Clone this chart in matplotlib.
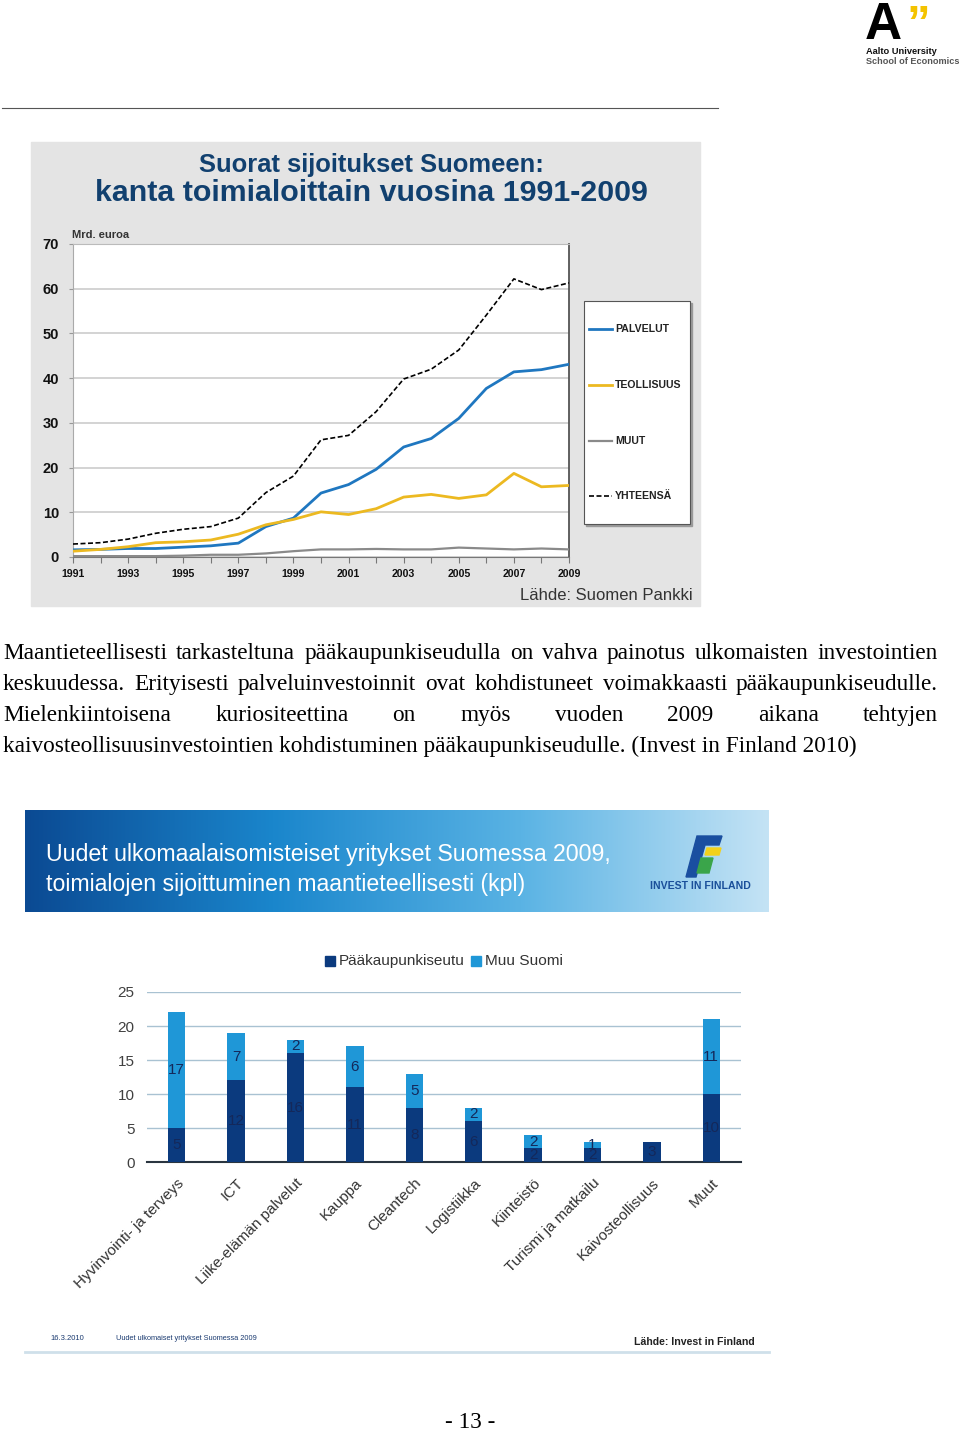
import matplotlib
matplotlib.use('Agg')
import numpy as np
import matplotlib.pyplot as plt
import matplotlib.font_manager as fm
from matplotlib.patches import Rectangle, Polygon
from matplotlib.colors import LinearSegmentedColormap

# line chart data (Mrd. euroa)
years = np.arange(1991, 2010)
palvelut = [1.6, 1.7, 1.9, 1.9, 2.2, 2.5, 3.1, 6.8, 8.7, 14.3, 16.2, 19.6, 24.6, 26.5, 31.0, 37.7, 41.4, 41.9, 43.1]
teollisuus = [1.3, 1.7, 2.3, 3.2, 3.4, 3.8, 5.1, 7.2, 8.4, 10.1, 9.5, 10.8, 13.4, 14.0, 13.1, 13.9, 18.7, 15.7, 16.0]
muut = [0.2, 0.2, 0.2, 0.2, 0.3, 0.5, 0.5, 0.8, 1.3, 1.7, 1.7, 1.8, 1.7, 1.7, 2.1, 1.9, 1.7, 1.9, 1.7]
yhteensa = [2.9, 3.2, 4.0, 5.3, 6.2, 6.8, 8.7, 14.4, 18.1, 26.2, 27.2, 32.5, 39.8, 42.0, 46.3, 54.1, 62.2, 59.8, 61.3]

# bar chart data (kpl)
toimialat = ['Hyvinvointi- ja terveys', 'ICT', 'Liike-elämän palvelut', 'Kauppa', 'Cleantech',
             'Logistiikka', 'Kiinteistö', 'Turismi ja matkailu', 'Kaivosteollisuus', 'Muut']
paakaupunkiseutu = [5, 12, 16, 11, 8, 6, 2, 2, 3, 10]
muu_suomi = [17, 7, 2, 6, 5, 2, 2, 1, 0, 11]

para = [
    "Maantieteellisesti tarkasteltuna pääkaupunkiseudulla on vahva painotus ulkomaisten investointien",
    "keskuudessa. Erityisesti palveluinvestoinnit ovat kohdistuneet voimakkaasti pääkaupunkiseudulle.",
    "Mielenkiintoisena kuriositeettina on myös vuoden 2009 aikana tehtyjen",
    "kaivosteollisuusinvestointien kohdistuminen pääkaupunkiseudulle. (Invest in Finland 2010)",
]

names = {f.name for f in fm.fontManager.ttflist}
SANS = 'Liberation Sans'
NARROW = 'Liberation Sans Narrow' if 'Liberation Sans Narrow' in names else 'Liberation Sans'
SERIF = 'Liberation Serif'

W, H = 960, 1434
fig = plt.figure(figsize=(W / 100, H / 100), dpi=100)
fig.patch.set_facecolor('white')
r = fig.canvas.get_renderer()

page = fig.add_axes([0, 0, 1, 1])
page.set_xlim(0, W)
page.set_ylim(H, 0)
page.axis('off')


def ax_px(x0, y0, x1, y1):
    return fig.add_axes([x0 / W, 1 - y1 / H, (x1 - x0) / W, (y1 - y0) / H])


def fit(x, y, s, width, **kw):
    t = page.text(x, y, s, fontsize=10, **kw)
    w = t.get_window_extent(r).width
    t.set_fontsize(10 * width / w)
    return t


# --- logo ---
page.text(865, 39, 'A', fontsize=37, fontweight='bold', family=SANS, color='black', va='baseline')
page.text(906, 38, '\u201d', fontsize=34, fontweight='bold', family=SANS, color='#f4c300', va='baseline')
fit(866, 52, 'Aalto University', 71, fontweight='bold', family=SANS, color='#111', va='center')
fit(866, 61, 'School of Economics', 92, fontweight='bold', family=SANS, color='#555', va='center')

page.plot([2, 718], [108, 108], color='#555', lw=0.8)

# --- line chart panel ---
page.add_patch(Rectangle((31, 142), 669, 464, color='#e4e4e4', zorder=0))
fit(371, 165, 'Suorat sijoitukset Suomeen:', 344, fontweight='bold', family=SANS,
    color='#11406f', ha='center', va='center')
fit(371, 193, 'kanta toimialoittain vuosina 1991-2009', 552, fontweight='bold', family=SANS,
    color='#11406f', ha='center', va='center')
fit(72, 235, 'Mrd. euroa', 57, fontweight='bold', family=SANS, color='#333', va='center')
fit(693, 596, 'Lähde: Suomen Pankki', 172, family=SANS, color='#333', ha='right', va='center')

ax1 = ax_px(73, 244, 569, 557)
ax1.set_facecolor('white')
ax1.plot(years, palvelut, color='#1f77c0', lw=2.0, zorder=3)
ax1.plot(years, teollisuus, color='#ecb921', lw=2.0, zorder=3)
ax1.plot(years, muut, color='#8a8a8a', lw=1.6, zorder=3)
ax1.plot(years, yhteensa, color='black', lw=1.2, ls=(0, (3, 1.5)), zorder=4)
ax1.set_xlim(1991, 2009)
ax1.set_ylim(0, 70)
ax1.set_yticks(range(0, 71, 10))
ax1.grid(axis='y', color='#cccccc', lw=1.2)
ax1.set_axisbelow(True)
ax1.set_xticks(years)
ax1.set_xticklabels([str(y) if y % 2 else '' for y in years])
for lab in ax1.get_xticklabels():
    lab.set_fontweight('bold')
    lab.set_fontfamily(SANS)
for lab in ax1.get_yticklabels():
    lab.set_fontweight('bold')
    lab.set_fontfamily(SANS)
ax1.tick_params(axis='x', length=4, color='#777', labelsize=7.6, pad=5, labelcolor='#111')
ax1.tick_params(axis='y', length=3, color='#999', labelsize=10.5, pad=7, labelcolor='#111')
ax1.spines['top'].set_color('#bbbbbb')
ax1.spines['left'].set_color('#aaaaaa')
ax1.spines['bottom'].set_color('#777777')
ax1.spines['right'].set_color('#555555')
ax1.spines['right'].set_linewidth(1.3)

# legend box
page.add_patch(Rectangle((586, 303), 106, 223, color='#9a9a9a', zorder=1))
page.add_patch(Rectangle((584, 301), 106, 223, facecolor='white', edgecolor='#555', lw=0.8, zorder=2))
leg = [('PALVELUT', '#1f77c0', '-', 2.0, 329), ('TEOLLISUUS', '#ecb921', '-', 2.0, 385),
       ('MUUT', '#8a8a8a', '-', 1.6, 441), ('YHTEENSÄ', 'black', (0, (3, 1.5)), 1.2, 496)]
for name, c, ls, lw, yy in leg:
    page.plot([589, 612], [yy, yy], color=c, ls=ls, lw=lw, zorder=3)
    page.text(615, yy, name, fontsize=7.6, fontweight='bold', family=SANS, color='#222',
              va='center', zorder=3)

# --- paragraph ---
t4 = page.text(3, 752, para[3], fontsize=10, family=SERIF, va='baseline', color='black')
fs = 10 * 854 / t4.get_window_extent(r).width
t4.set_fontsize(fs)
for line, yb in zip(para[:3], [659, 690, 721]):
    words = line.split()
    ts = [page.text(0, yb, w, fontsize=fs, family=SERIF, va='baseline', color='black') for w in words]
    widths = [t.get_window_extent(r).width for t in ts]
    gap = (938 - 3 - sum(widths)) / (len(words) - 1)
    x = 3
    for t, w in zip(ts, widths):
        t.set_x(x)
        x += w + gap

# --- bar chart panel ---
cmap = LinearSegmentedColormap.from_list('hdr', ['#0b4a93', '#1a86cc', '#5ab3e4', '#c4e3f5'])
grad = np.linspace(0, 1, 256).reshape(1, -1)
page.imshow(grad, cmap=cmap, extent=(25, 769, 912, 810), aspect='auto', zorder=0)
page.set_xlim(0, W)
page.set_ylim(H, 0)
fit(46, 855, 'Uudet ulkomaalaisomisteiset yritykset Suomessa 2009,', 568, family=NARROW,
    color='white', va='center')
fit(46, 884, 'toimialojen sijoittuminen maantieteellisesti (kpl)', 483, family=NARROW,
    color='white', va='center')
page.add_patch(Polygon([(686, 877), (697, 836), (722, 836), (719, 845), (705, 845), (696, 877)],
                       color='#1a4fa0', zorder=2))
page.add_patch(Polygon([(707, 848), (721, 848), (719, 855), (705, 855)], color='#f2d11b', zorder=2))
page.add_patch(Polygon([(701, 858), (713, 858), (709, 873), (697, 873)], color='#3aa54a', zorder=2))
fit(650, 886, 'INVEST IN FINLAND', 100, family=SANS, fontweight='bold', color='#1a4f9a', va='center')

# legend
page.add_patch(Rectangle((325, 956), 10, 10, color='#0b3a7e'))
fit(339, 961, 'Pääkaupunkiseutu', 126, family=NARROW, color='#333', va='center')
page.add_patch(Rectangle((471, 956), 10, 10, color='#1f97d7'))
fit(485, 961, 'Muu Suomi', 78, family=NARROW, color='#333', va='center')

ax2 = ax_px(147, 992, 741, 1162)
x = np.arange(len(toimialat))
bw = 0.29
ax2.bar(x, paakaupunkiseutu, bw, color='#0b3a7e', zorder=3)
ax2.bar(x, muu_suomi, bw, bottom=paakaupunkiseutu, color='#1f97d7', zorder=3)
for i in range(len(x)):
    a, b = paakaupunkiseutu[i], muu_suomi[i]
    if a:
        ax2.text(i, a / 2, str(a), ha='center', va='center', fontsize=11, family=NARROW,
                 color='#14285a', zorder=4)
    if b:
        ax2.text(i, a + b / 2, str(b), ha='center', va='center', fontsize=11, family=NARROW,
                 color='#14285a', zorder=4)
ax2.set_xlim(-0.5, len(x) - 0.5)
ax2.set_ylim(0, 25)
ax2.set_yticks(range(0, 26, 5))
ax2.grid(axis='y', color='#a9c2d2', lw=1)
ax2.set_axisbelow(True)
for s in ['top', 'right', 'left']:
    ax2.spines[s].set_visible(False)
ax2.spines['bottom'].set_color('#2a3540')
ax2.spines['bottom'].set_linewidth(1.5)
ax2.set_xticks(x)
ax2.set_xticklabels(toimialat, rotation=45, ha='right', rotation_mode='anchor',
                    fontsize=11, family=NARROW, color='#333')
ax2.tick_params(axis='x', length=0, pad=10)
ax2.tick_params(axis='y', length=0, pad=9, labelsize=11, labelcolor='#404040')
for lab in ax2.get_yticklabels():
    lab.set_fontfamily(NARROW)

# footer
fit(50, 1338, '16.3.2010', 34, family=NARROW, color='#1a3a70', va='center')
fit(116, 1338, 'Uudet ulkomaiset yritykset Suomessa 2009', 142, family=NARROW, color='#1a3a70', va='center')
fit(634, 1342, 'Lähde: Invest in Finland', 120, family=NARROW, fontweight='bold', color='#222', va='center')
page.plot([25, 769], [1352, 1352], color='#cfe0ea', lw=2)

page.text(470, 1422, '- 13 -', fontsize=fs, family=SERIF, ha='center', va='center', color='black')

fig.savefig('out.png', dpi=100)
